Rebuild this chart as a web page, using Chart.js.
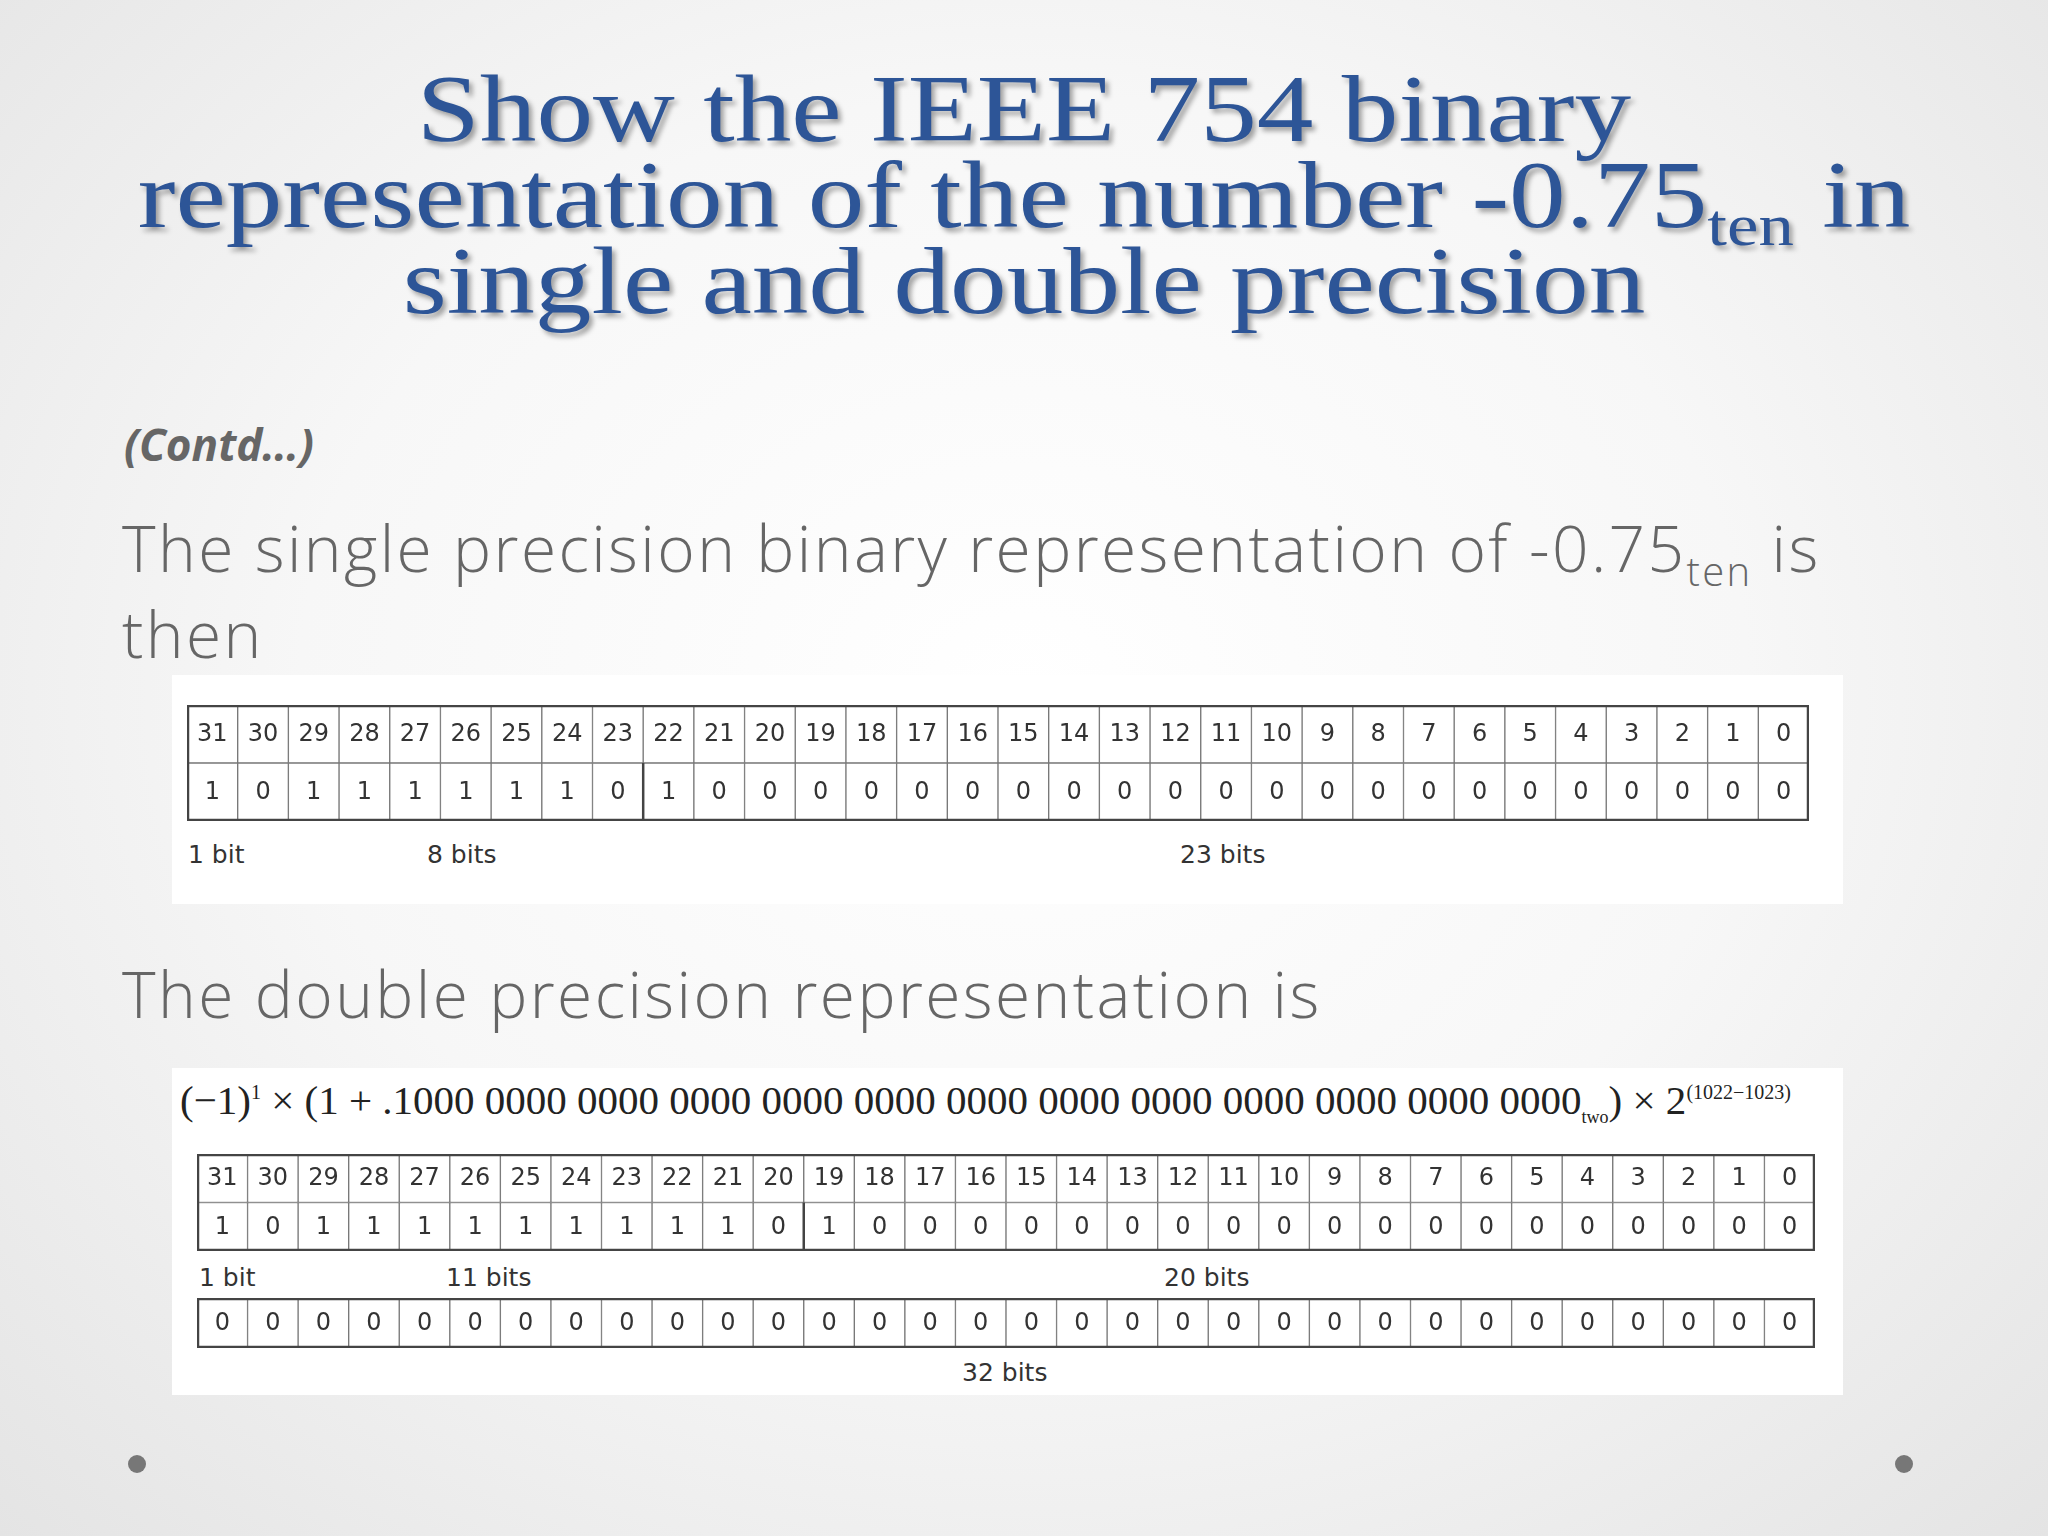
<!DOCTYPE html>
<html><head><meta charset="utf-8">
<script src="https://cdn.jsdelivr.net/npm/chart.js@4/dist/chart.umd.min.js"></script>
<style>
html,body{margin:0;padding:0;}
body{width:2048px;height:1536px;position:relative;overflow:hidden;
background:radial-gradient(ellipse at 50% 45%,#ffffff 0%,#f7f7f7 50%,#e4e4e4 100%);font-family:"Open Sans",sans-serif;}
.t{position:absolute;white-space:nowrap;}
#title{left:0;width:2048px;top:66px;text-align:center;font-family:"Liberation Serif",serif;font-size:96px;line-height:86px;color:#2D5597;text-shadow:3px 4px 5px rgba(0,0,0,0.35);transform:scaleX(1.18);transform-origin:50% 0;}
#title sub{font-size:60px;vertical-align:-18px;line-height:0;}
.body{font-size:64px;color:#666;font-weight:300;letter-spacing:2.4px;}
.body sub{font-size:40px;vertical-align:-14px;line-height:0;}
.box{position:absolute;background:#fff;}
canvas{position:absolute;}
.lbl{position:absolute;font-family:"DejaVu Sans",sans-serif;font-size:25px;color:#333;}
.dot{position:absolute;width:18px;height:18px;border-radius:50%;background:#777;}
</style></head><body>
<div id="title" class="t">Show the IEEE 754 binary<br>representation of the number -0.75<sub>ten</sub> in<br>single and double precision</div>
<div class="t" style="left:124px;top:414px;font-size:44px;font-style:italic;font-weight:700;color:#666;">(Contd…)</div>
<div class="t body" style="left:122px;top:504px;">The single precision binary representation of -0.75<sub>ten</sub> is</div>
<div class="t body" style="left:122px;top:590px;">then</div>
<div class="box" style="left:172px;top:675px;width:1671px;height:229px;"></div>
<canvas id="c1" width="1622" height="116" style="left:187px;top:705px;"></canvas>
<div class="lbl" style="left:188px;top:840px;">1 bit</div>
<div class="lbl" style="left:427px;top:840px;">8 bits</div>
<div class="lbl" style="left:1180px;top:840px;">23 bits</div>
<div class="t body" style="left:122px;top:950px;">The double precision representation is</div>
<div class="box" style="left:172px;top:1068px;width:1671px;height:327px;"></div>
<div class="t" style="left:180px;top:1076px;font-family:'Liberation Serif',serif;font-size:41px;color:#222;">(−1)<sup style="font-size:20px">1</sup> × (1 + .1000 0000 0000 0000 0000 0000 0000 0000 0000 0000 0000 0000 0000<sub style="font-size:18px">two</sub>) × 2<sup style="font-size:20px">(1022−1023)</sup></div>
<canvas id="c2" width="1618" height="97" style="left:197px;top:1154px;"></canvas>
<div class="lbl" style="left:199px;top:1263px;">1 bit</div>
<div class="lbl" style="left:446px;top:1263px;">11 bits</div>
<div class="lbl" style="left:1164px;top:1263px;">20 bits</div>
<canvas id="c3" width="1618" height="50" style="left:197px;top:1298px;"></canvas>
<div class="lbl" style="left:962px;top:1358px;">32 bits</div>
<div class="dot" style="left:128px;top:1455px;"></div>
<div class="dot" style="left:1895px;top:1455px;"></div>
<script>
const bitIndex = Array.from({length:32},(_,i)=>String(31-i));
const singleBits = ["1","0","1","1","1","1","1","1","0","1","0","0","0","0","0","0","0","0","0","0","0","0","0","0","0","0","0","0","0","0","0","0"];
const doubleHighBits = ["1","0","1","1","1","1","1","1","1","1","1","0","1","0","0","0","0","0","0","0","0","0","0","0","0","0","0","0","0","0","0","0"];
const doubleLowBits = ["0","0","0","0","0","0","0","0","0","0","0","0","0","0","0","0","0","0","0","0","0","0","0","0","0","0","0","0","0","0","0","0"];
const ones = bitIndex.map(()=>1);

const textPlugin = {
  id:'cellText',
  afterDatasetsDraw(chart){
    const ctx=chart.ctx;
    ctx.save();
    ctx.font='24px "DejaVu Sans", sans-serif';
    ctx.fillStyle='#333';ctx.textAlign='center';ctx.textBaseline='middle';
    chart.data.datasets.forEach((ds,di)=>{
      const meta=chart.getDatasetMeta(di);
      meta.data.forEach((bar,i)=>{
        const yc=(bar.y+bar.base)/2;
        ctx.fillText(ds.texts[i],bar.x,yc+1);
      });
    });
    const seps=chart.options.plugins.cellText.seps||[];
    const meta=chart.getDatasetMeta(0);
    const a=chart.chartArea;
    ctx.strokeStyle='#444';ctx.lineWidth=2.5;
    seps.forEach(i=>{
      const x=(meta.data[i].x+meta.data[i+1].x)/2;
      const b=meta.data[i];
      ctx.beginPath();ctx.moveTo(x,b.base);ctx.lineTo(x,b.y);ctx.stroke();
    });
    ctx.lineWidth=2.5;ctx.strokeRect(a.left+1,a.top+1,a.right-a.left-2,a.bottom-a.top-2);
    ctx.restore();
  }
};

function makeChart(id, rows, seps){
  const datasets = rows.map(r=>({
    data:ones, texts:r.texts, backgroundColor:'#fff', borderColor:'#777', borderWidth:1,
    barPercentage:1, categoryPercentage:1, borderSkipped:false
  }));
  new Chart(document.getElementById(id),{
    type:'bar',
    data:{labels:bitIndex,datasets},
    options:{responsive:false,animation:false,devicePixelRatio:1,
      layout:{padding:0},
      scales:{x:{display:false,stacked:true},y:{display:false,stacked:true,min:0,max:rows.length}},
      plugins:{legend:{display:false},tooltip:{enabled:false},cellText:{seps}}},
    plugins:[textPlugin]
  });
}
makeChart('c1',[{texts:singleBits},{texts:bitIndex}],[8]);
makeChart('c2',[{texts:doubleHighBits},{texts:bitIndex}],[11]);
makeChart('c3',[{texts:doubleLowBits}],[]);
</script>
</body></html>
